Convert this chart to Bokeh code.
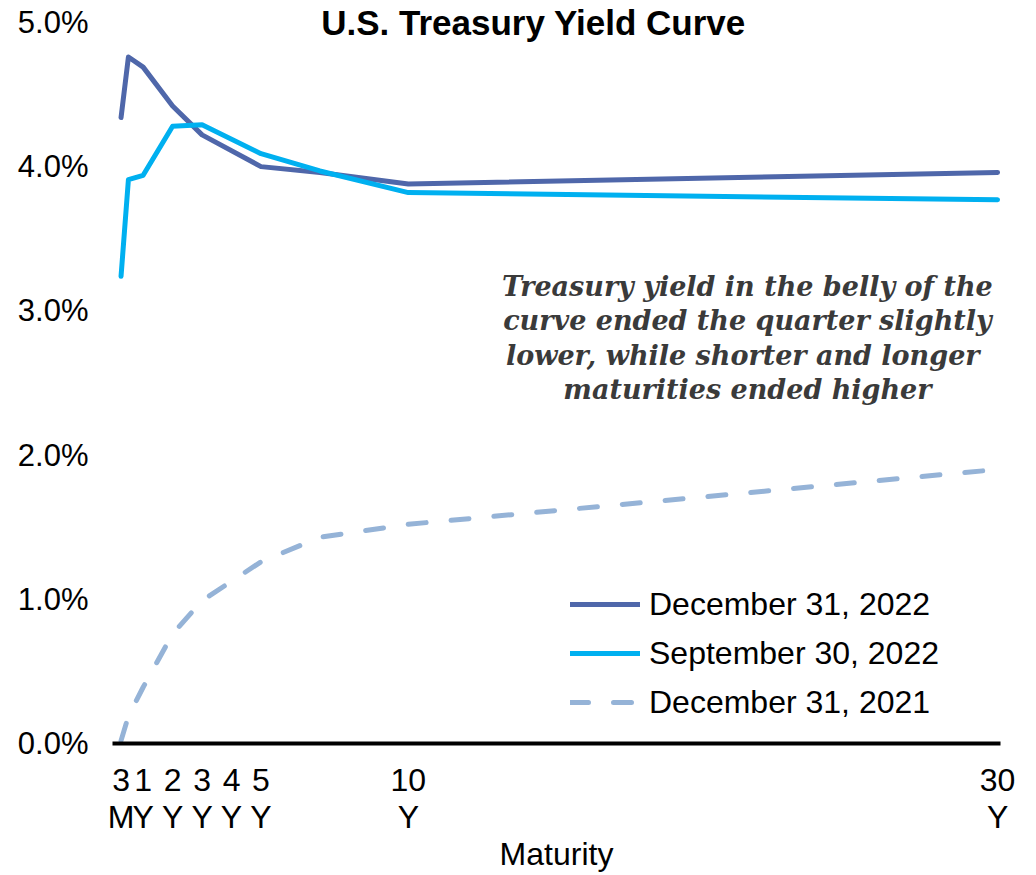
from bokeh.plotting import figure
from bokeh.models import Range1d, FixedTicker, PrintfTickFormatter, Label, Legend, LegendItem
from bokeh.embed import file_html
from bokeh.resources import INLINE

# ---- data ----
maturity = [0.25, 0.5, 1, 2, 3, 5, 7, 10, 30]
dec_2022 = [4.34, 4.76, 4.69, 4.42, 4.22, 4.00, 3.96, 3.88, 3.96]
sep_2022 = [3.24, 3.91, 3.94, 4.28, 4.29, 4.09, 3.97, 3.82, 3.77]
dec_2021 = [0.02, 0.19, 0.39, 0.76, 0.99, 1.26, 1.43, 1.52, 1.90]

series_names = ["December 31, 2022", "September 30, 2022", "December 31, 2021"]

tick_values = [0.25, 1, 2, 3, 4, 5, 10, 30]
tick_labels = ["3\nM", "1\nY", "2\nY", "3\nY", "4\nY", "5\nY", "10\nY", "30\nY"]

y_ticks = [0, 1, 2, 3, 4, 5]

title_text = "U.S. Treasury Yield Curve"
note_lines = [
    "Treasury yield in the belly of the",
    "curve ended the quarter slightly",
    "lower, while  shorter and longer",
    "maturities ended higher",
]

FONT = "Liberation Sans"

p = figure(
    width=1036, height=875,
    x_range=Range1d(-0.04, 30.1), y_range=Range1d(0, 5.152),
    output_backend="svg", toolbar_location=None,
    min_border_left=112, min_border_right=36, min_border_top=0, min_border_bottom=131,
)
p.outline_line_color = None
p.xgrid.visible = False
p.ygrid.visible = False
p.background_fill_color = "white"
p.border_fill_color = "white"

# x axis
xa = p.xaxis[0]
xa.ticker = FixedTicker(ticks=tick_values)
xa.major_label_overrides = {v: t for v, t in zip(tick_values, tick_labels)}
xa.axis_line_color = "black"
xa.axis_line_width = 4
xa.major_tick_line_color = None
xa.minor_tick_line_color = None
xa.major_label_text_font = FONT
xa.major_label_text_font_size = "32px"
xa.major_label_text_color = "black"
xa.major_label_text_line_height = 1.05
xa.major_label_standoff = 12
xa.axis_label = "Maturity"
xa.axis_label_text_font = FONT
xa.axis_label_text_font_size = "32px"
xa.axis_label_text_font_style = "normal"
xa.axis_label_text_color = "black"
xa.axis_label_standoff = -2

# y axis
ya = p.yaxis[0]
ya.ticker = FixedTicker(ticks=y_ticks)
ya.formatter = PrintfTickFormatter(format="%.1f%%")
ya.axis_line_color = None
ya.major_tick_line_color = None
ya.minor_tick_line_color = None
ya.major_label_text_font = FONT
ya.major_label_text_font_size = "31px"
ya.major_label_text_color = "black"
ya.major_label_standoff = 18

r1 = p.line(maturity, dec_2022, line_color="#4F67AA", line_width=5,
            line_cap="round", line_join="round")
r2 = p.line(maturity, sep_2022, line_color="#00B0F0", line_width=5,
            line_cap="round", line_join="round")
r3 = p.line(maturity, dec_2021, line_color="#95B3D7", line_width=5,
            line_dash="18 25", line_cap="round", line_join="round")

legend = Legend(
    items=[LegendItem(label=series_names[0], renderers=[r1]),
           LegendItem(label=series_names[1], renderers=[r2]),
           LegendItem(label=series_names[2], renderers=[r3])],
    location=(458, 21),
    glyph_width=70, glyph_height=40, label_height=40,
    label_standoff=9, spacing=9, padding=0, margin=0,
    border_line_color=None, background_fill_alpha=0,
    label_text_font=FONT, label_text_font_size="32px", label_text_color="black",
)
p.add_layout(legend, "center")

p.add_layout(Label(x=14.25, y=5.0, text=title_text, text_align="center",
                   text_baseline="middle", text_font=FONT, text_font_size="35px",
                   text_font_style="bold", text_color="black"))

for i, line in enumerate(note_lines):
    p.add_layout(Label(x=21.51, y=3.172 - i * 0.24, text=line, text_align="center",
                       text_baseline="middle", text_font="DejaVu Serif",
                       text_font_size="27px", text_font_style="bold italic",
                       text_color="#3A3A3A"))

open("out.html", "w").write(file_html(p, INLINE))
